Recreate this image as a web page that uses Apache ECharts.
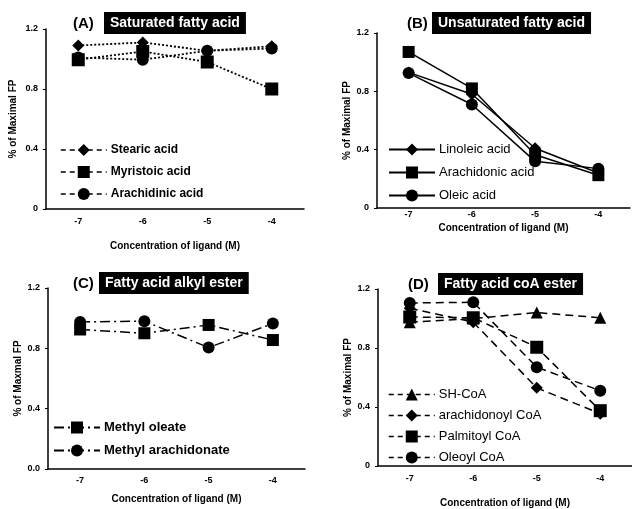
<!DOCTYPE html>
<html>
<head>
<meta charset="utf-8">
<script src="https://cdn.jsdelivr.net/npm/echarts@6/dist/echarts.min.js"></script>
</head>
<body style="margin:0;background:#fff">
<div id="chart" style="width:632px;height:509px;"></div>
<script>
const conc = ['-7', '-6', '-5', '-4'];

// (A) saturated
const stearic = [1.09, 1.11, 1.055, 1.085];
const myristoic = [0.995, 1.05, 0.98, 0.80];
const arachidinic = [1.01, 0.995, 1.055, 1.07];

// (B) unsaturated
const linoleic = [0.93, 0.78, 0.41, 0.24];
const arachidonic = [1.07, 0.82, 0.365, 0.225];
const oleic = [0.925, 0.71, 0.32, 0.27];

// (C) alkyl ester
const methylOleate = [0.925, 0.90, 0.955, 0.855];
const methylArachidonate = [0.975, 0.98, 0.805, 0.965];

// (D) coA ester
const shCoA = [0.975, 1.0, 1.04, 1.005];
const arachidonoylCoA = [1.07, 0.975, 0.53, 0.355];
const palmitoylCoA = [1.01, 1.005, 0.805, 0.375];
const oleoylCoA = [1.105, 1.11, 0.67, 0.51];

const FONT = 'Liberation Sans';

let chart = echarts.init(document.getElementById('chart'));

const grids = [
    {left: 46, top: 29, width: 258, height: 180},
    {left: 377, top: 33, width: 253, height: 175},
    {left: 48, top: 288, width: 257, height: 181},
    {left: 378, top: 289, width: 254, height: 181}
];
const xNameGap = [32, 15, 25, 32];
const xLabelMargin = [8, 2, 7, 8];
const yNames = ['% of Maximal FP', '% of Maximal FP', '% of Maxmal FP', '% of Maximal FP'];
const yNameGap = [28, 23, 25, 23];

function makeSeries(name, data, idx, symbol, size, lineType, width) {
    return {
        name, type: 'line', data,
        xAxisIndex: idx, yAxisIndex: idx,
        symbol, symbolSize: size,
        itemStyle: {color: '#000'},
        lineStyle: {color: '#000', width: width, type: lineType},
        animation: false
    };
}

const dotA = [2, 2];
const dashDot = [10, 4, 2, 4];
const dashD = [8, 5];

let series = [
    makeSeries('Stearic acid', stearic, 0, 'diamond', 12, dotA, 1.8),
    makeSeries('Myristoic acid', myristoic, 0, 'rect', 13, dotA, 1.8),
    makeSeries('Arachidinic acid', arachidinic, 0, 'circle', 12, dotA, 1.8),
    makeSeries('Linoleic acid', linoleic, 1, 'diamond', 12, 'solid', 1.5),
    makeSeries('Arachidonic acid', arachidonic, 1, 'rect', 12, 'solid', 1.5),
    makeSeries('Oleic acid', oleic, 1, 'circle', 12, 'solid', 1.5),
    makeSeries('Methyl oleate', methylOleate, 2, 'rect', 12, dashDot, 1.5),
    makeSeries('Methyl arachidonate', methylArachidonate, 2, 'circle', 12, dashDot, 1.5),
    makeSeries('SH-CoA', shCoA, 3, 'triangle', 12, dashD, 1.5),
    makeSeries('arachidonoyl CoA', arachidonoylCoA, 3, 'diamond', 12, dashD, 1.5),
    makeSeries('Palmitoyl CoA', palmitoylCoA, 3, 'rect', 13, dashD, 1.5),
    makeSeries('Oleoyl CoA', oleoylCoA, 3, 'circle', 12, dashD, 1.5)
];

function legend(names, left, top, bold, size, gap, lineType) {
    return {
        data: names, orient: 'vertical', left, top, padding: 0,
        itemWidth: 46, itemHeight: 15, itemGap: gap,
        selectedMode: false,
        lineStyle: lineType ? {type: lineType, width: 1.5} : {},
        textStyle: {fontFamily: FONT, fontSize: size, fontWeight: bold ? 'bold' : 'normal', color: '#000', padding: [0, 0, 0, -1]}
    };
}

function titlePair(tag, text, tagX, boxX, top) {
    return [
        {text: tag, left: tagX, top: top + 2, padding: 0,
         textStyle: {fontFamily: FONT, fontSize: 15, fontWeight: 'bold', color: '#000'}},
        {text, left: boxX, top: top - 2, padding: [4, 6, 4, 6], backgroundColor: '#000',
         textStyle: {fontFamily: FONT, fontSize: 14, fontWeight: 'bold', color: '#fff'}}
    ];
}

let option = {
    backgroundColor: '#fff',
    animation: false,
    title: [].concat(
        titlePair('(A)', 'Saturated fatty acid', 73, 104, 14),
        titlePair('(B)', 'Unsaturated fatty acid', 407, 432, 14),
        titlePair('(C)', 'Fatty acid alkyl ester', 73, 99, 274),
        titlePair('(D)', 'Fatty acid coA ester', 408, 438, 275)
    ),
    legend: [
        legend(['Stearic acid', 'Myristoic acid', 'Arachidinic acid'], 60, 144, true, 12, 10, [5, 4]),
        legend(['Linoleic acid', 'Arachidonic acid', 'Oleic acid'], 388, 143, false, 13, 10),
        legend(['Methyl oleate', 'Methyl arachidonate'], 53, 421, true, 13, 10),
        legend(['SH-CoA', 'arachidonoyl CoA', 'Palmitoyl CoA', 'Oleoyl CoA'], 388, 388, false, 13, 8, [5, 4])
    ],
    grid: grids,
    xAxis: grids.map((g, i) => ({
        type: 'category', gridIndex: i, data: conc, boundaryGap: true,
        name: 'Concentration of ligand (M)', nameLocation: 'middle', nameGap: xNameGap[i],
        nameTextStyle: {fontFamily: FONT, fontSize: 10, fontWeight: 'bold', color: '#000'},
        axisLine: {lineStyle: {color: '#000', width: 1.5}},
        axisTick: {show: false},
        axisLabel: {fontFamily: FONT, fontSize: 9, fontWeight: 'bold', color: '#000', margin: xLabelMargin[i]},
        splitLine: {show: false}
    })),
    yAxis: grids.map((g, i) => ({
        type: 'value', gridIndex: i, min: 0, max: 1.2, interval: 0.4,
        name: yNames[i], nameLocation: 'middle', nameGap: yNameGap[i],
        nameTextStyle: {fontFamily: FONT, fontSize: 10, fontWeight: 'bold', color: '#000'},
        axisLine: {show: true, lineStyle: {color: '#000', width: 1.5}},
        axisTick: {show: true, length: 3, lineStyle: {color: '#000'}},
        axisLabel: {fontFamily: FONT, fontSize: 9, fontWeight: 'bold', color: '#000', margin: 8,
            formatter: v => i === 2 ? v.toFixed(1) : (v === 0 ? '0' : v.toFixed(1))},
        splitLine: {show: false}
    })),
    series: series
};

chart.setOption(option);
</script>
</body>
</html>
